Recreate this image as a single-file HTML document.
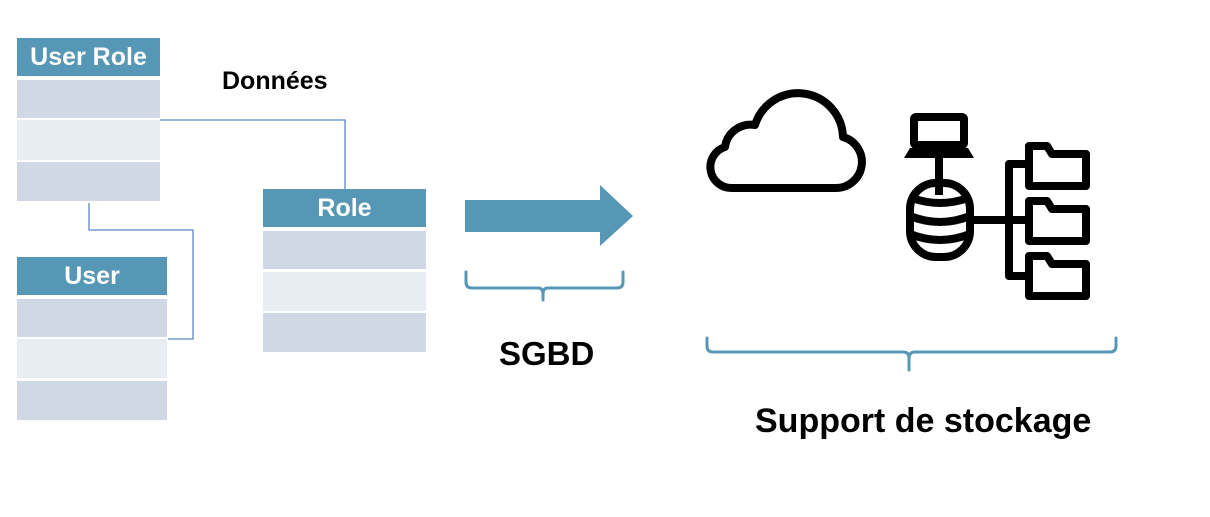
<!DOCTYPE html>
<html><head><meta charset="utf-8"><style>
body{margin:0;width:1210px;height:517px;background:#fff;position:relative;overflow:hidden;font-family:"Liberation Sans",Arial,sans-serif}
.b{position:absolute}
.h{background:#5597b4;color:#fff;font-weight:bold;font-size:25px;text-align:center;line-height:38px}
.r1{background:#d0d8e6}.r2{background:#e8edf4}
.t{position:absolute;font-weight:bold;color:#000;white-space:nowrap}
</style></head><body>
<div class="b h" style="left:17px;top:38px;width:143px;height:38px">User Role</div>
<div class="b r1" style="left:17px;top:80px;width:143px;height:38px"></div>
<div class="b r2" style="left:17px;top:120px;width:143px;height:40px"></div>
<div class="b r1" style="left:17px;top:162px;width:143px;height:39px"></div>
<div class="b h" style="left:17px;top:257px;width:150px;height:38px">User</div>
<div class="b r1" style="left:17px;top:299px;width:150px;height:38px"></div>
<div class="b r2" style="left:17px;top:339px;width:150px;height:39px"></div>
<div class="b r1" style="left:17px;top:381px;width:150px;height:39px"></div>
<div class="b h" style="left:263px;top:189px;width:163px;height:38px">Role</div>
<div class="b r1" style="left:263px;top:231px;width:163px;height:38px"></div>
<div class="b r2" style="left:263px;top:272px;width:163px;height:39px"></div>
<div class="b r1" style="left:263px;top:313px;width:163px;height:39px"></div>
<div class="t" style="left:222px;top:67px;font-size:25px">Données</div>
<div class="t" style="left:499px;top:335px;font-size:33px">SGBD</div>
<div class="t" style="left:755px;top:402px;font-size:34px">Support de stockage</div>
<svg class="b" style="left:0;top:0" width="1210" height="517">
<g fill="none" stroke="#5b87c5" stroke-width="1.3">
<polyline points="160,120 345,120 345,189"/>
<polyline points="89,203 89,230 193,230 193,339 168,339"/>
</g>
<polygon points="465,200 600,200 600,185 633,216 600,246 600,232 465,232" fill="#5597b4"/>
<g fill="none" stroke="#5597b4" stroke-width="3" stroke-linecap="round">
<path d="M466,272 v10 q0,6 6,6 h66 q5,0 5,6 v6 M543,294 q0,-6 5,-6 h69 q6,0 6,-6 v-10"/>
<path d="M707,338 v8 q0,6 6,6 h190 q6,0 6,6 v12 M909,358 q0,-6 6,-6 h195 q6,0 6,-6 v-8"/>
</g>
<g fill="none" stroke="#000" stroke-width="8" stroke-linejoin="round">
<path d="M732,188 h103 a26,26 0 0 0 8,-51 a45,45 0 0 0 -88,-12 a26,26 0 0 0 -30,22 a21,21 0 0 0 7,41 z"/>
<rect x="914" y="117" width="50" height="28" rx="2"/>
<line x1="939" y1="150" x2="939" y2="195"/>
<rect x="910" y="183" width="60" height="74" rx="26"/>
<path d="M910,216 q30,12 60,0 M910,234 q30,12 60,0 M912,198 q28,10 56,0"/>
<line x1="972" y1="220" x2="1026" y2="220"/>
<polyline points="1026,164 1009,164 1009,276 1026,276"/>
<path d="M1029,146 h18 l5,8 h34 v32 h-57 z M1029,201 h18 l5,8 h34 v32 h-57 z M1029,256 h18 l5,8 h34 v32 h-57 z"/>
</g>
<path d="M910,148 h58 l6,10 h-70 z" fill="#000"/>
</svg>
</body></html>
